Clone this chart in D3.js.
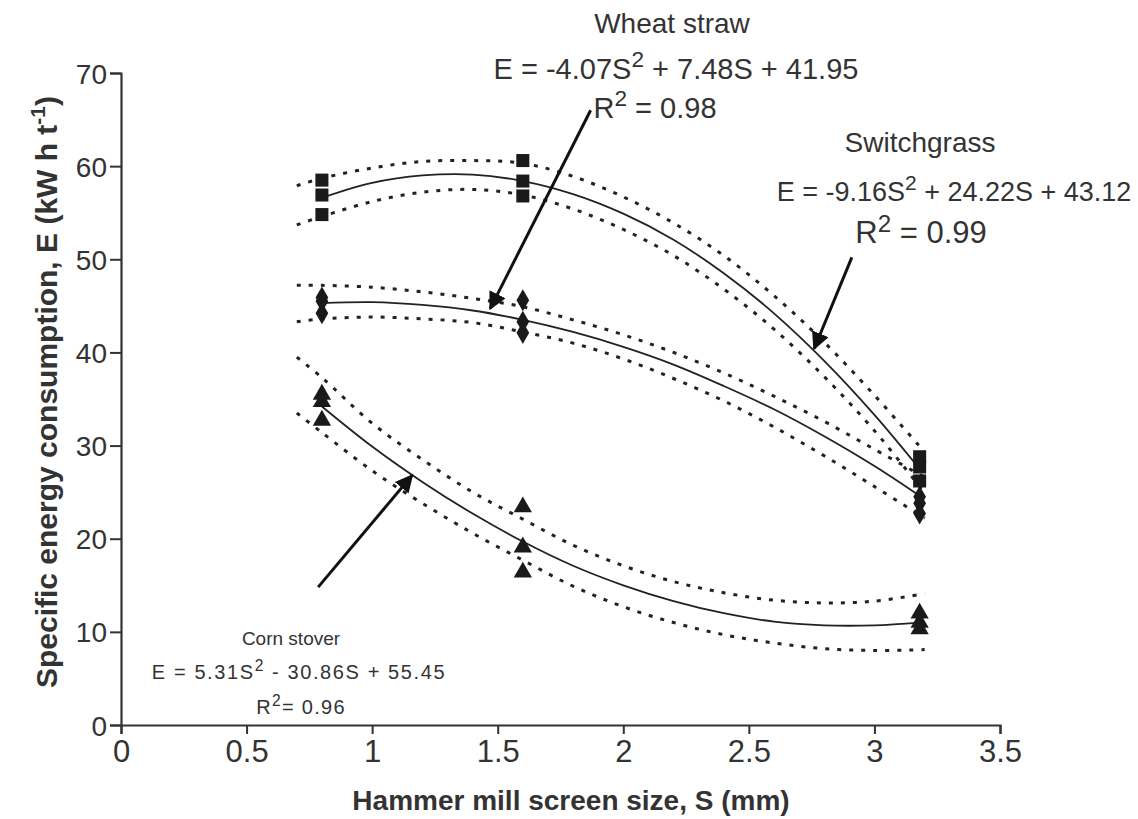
<!DOCTYPE html>
<html>
<head>
<meta charset="utf-8">
<script src="https://cdn.jsdelivr.net/npm/d3@7"></script>
<style>
  html, body { margin: 0; padding: 0; background: #fff; }
  svg { display: block; }
  text { font-family: "Liberation Sans", Arial, sans-serif; fill: #333; }
</style>
</head>
<body>
<svg id="chart" width="1138" height="819"></svg>
<script>
// ---------- DATA ----------
const xTicks = [0, 0.5, 1, 1.5, 2, 2.5, 3, 3.5];
const yTicks = [0, 10, 20, 30, 40, 50, 60, 70];

const screenSizes = [0.8, 1.6, 3.18];

// replicate measurements (kWh/t) at each screen size
const switchgrassPts = [[58.5, 56.9, 54.8], [60.6, 58.4, 56.8], [28.8, 27.7, 26.2]];
const wheatPts       = [[45.9, 45.5, 44.2], [45.6, 43.3, 42.1], [24.5, 23.8, 22.7]];
const cornPts        = [[35.5, 34.7, 32.7], [23.4, 19.1, 16.4], [12.0, 11.0, 10.3]];

// fitted curves read along S
const fitS = [0.8, 1.0, 1.2, 1.4, 1.6, 1.8, 2.0, 2.2, 2.4, 2.6, 2.8, 3.0, 3.18];
const switchgrassFit = [56.6, 58.2, 59.0, 59.1, 58.4, 57.0, 54.9, 52.1, 48.5, 44.2, 39.1, 33.3, 27.5];
const wheatFit       = [45.3, 45.4, 45.1, 44.5, 43.5, 42.2, 40.6, 38.7, 36.4, 33.9, 31.0, 27.8, 24.6];
const cornFit        = [34.2, 29.9, 26.1, 22.7, 19.7, 17.1, 15.0, 13.3, 12.0, 11.1, 10.7, 10.7, 11.0];

// confidence bands (dotted) read along S
const bandS = [0.7, 0.8, 1.0, 1.2, 1.4, 1.6, 1.8, 2.0, 2.2, 2.4, 2.6, 2.8, 3.0, 3.2];
const switchgrassUpper = [57.9, 58.7, 59.8, 60.5, 60.6, 60.3, 58.9, 56.7, 53.9, 50.4, 46.1, 41.1, 35.4, 29.3];
const switchgrassLower = [53.7, 54.6, 56.2, 57.2, 57.5, 56.9, 55.4, 53.2, 50.4, 46.8, 42.5, 37.4, 31.6, 24.9];
const wheatUpper       = [47.2, 47.2, 47.0, 46.5, 45.8, 44.9, 43.5, 41.9, 40.0, 37.8, 35.3, 32.6, 29.6, 26.6];
const wheatLower       = [43.3, 43.6, 43.8, 43.6, 43.2, 42.2, 41.0, 39.3, 37.2, 34.8, 32.0, 28.9, 25.6, 22.2];
const cornUpper        = [39.5, 37.3, 32.4, 28.5, 25.0, 22.1, 19.3, 17.1, 15.4, 14.2, 13.4, 13.1, 13.3, 14.1];
const cornLower        = [33.5, 31.4, 27.3, 23.8, 20.6, 17.7, 14.9, 12.7, 11.0, 9.7, 8.8, 8.2, 8.0, 8.1];

// annotation arrows: [tailS, tailE, headS, headE]
const wheatArrow  = [1.87, 66.0, 1.47, 44.7];
const switchArrow = [2.91, 50.2, 2.76, 40.4];
const cornArrow   = [0.785, 14.8, 1.159, 26.8];

// ---------- CHART ----------
const svg = d3.select("#chart");
const x = d3.scaleLinear().domain([0, 3.5]).range([121, 1000]);
const y = d3.scaleLinear().domain([0, 70]).range([725, 73]);

const ink = "#222";

// axes
const xAxis = svg.append("g").attr("transform", `translate(0,${y(0)})`)
  .call(d3.axisBottom(x).tickValues(xTicks).tickSize(9).tickPadding(6).tickFormat(d3.format("")));
const yAxis = svg.append("g").attr("transform", `translate(${x(0)},0)`)
  .call(d3.axisLeft(y).tickValues(yTicks).tickSize(11).tickPadding(3).tickFormat(d3.format("")));
[xAxis, yAxis].forEach(a => {
  a.select(".domain").attr("stroke", "#333").attr("stroke-width", 2.2);
  a.selectAll(".tick line").attr("stroke", "#333").attr("stroke-width", 2);
  a.selectAll(".tick text").attr("fill", "#3a3a3a")
    .style("font-family", "'Liberation Sans', Arial, sans-serif");
});
xAxis.selectAll(".tick text").style("font-size", "30px")
  .attr("transform", function() { return "scale(0.88,1.08)"; });
xAxis.selectAll(".tick").each(function(d) {
  d3.select(this).select("text").attr("transform", null)
    .style("font-size", "31px");
});
yAxis.selectAll(".tick text").style("font-size", "28px").attr("dy", "0.36em");

// axis titles
svg.append("text").attr("x", 571).attr("y", 810).attr("text-anchor", "middle")
  .style("font-size", "28px").style("font-weight", "bold").text("Hammer mill screen size, S (mm)");
const yt = svg.append("text").attr("transform", "translate(57,392) rotate(-90)")
  .attr("text-anchor", "middle").style("font-size", "30px").style("font-weight", "bold");
yt.append("tspan").text("Specific energy consumption, E (kW h t");
yt.append("tspan").attr("dy", -12).style("font-size", "21px").text("-1");
yt.append("tspan").attr("dy", 12).text(")");

// lines
const line = d3.line().x(d => x(d[0])).y(d => y(d[1])).curve(d3.curveCatmullRom.alpha(0.5));
function drawLine(xs, ys, dashed) {
  svg.append("path").datum(xs.map((s, i) => [s, ys[i]]))
    .attr("d", line).attr("fill", "none").attr("stroke", ink)
    .attr("stroke-width", dashed ? 3 : 1.8)
    .attr("stroke-dasharray", dashed ? "4,8" : null);
}
[[switchgrassUpper], [switchgrassLower], [wheatUpper], [wheatLower], [cornUpper], [cornLower]]
  .forEach(([b]) => drawLine(bandS, b, true));
[switchgrassFit, wheatFit, cornFit].forEach(f => drawLine(fitS, f, false));

// markers
const sym = { square: d3.symbolSquare, diamond: d3.symbolDiamond, triangle: d3.symbolTriangle };
function drawPts(pts, type, size) {
  pts.forEach((reps, i) => reps.forEach(v => {
    svg.append("path").attr("d", d3.symbol().type(sym[type]).size(size)())
      .attr("transform", `translate(${x(screenSizes[i])},${y(v)})`).attr("fill", "#1a1a1a");
  }));
}
drawPts(switchgrassPts, "square", 170);
drawPts(wheatPts, "diamond", 140);
drawPts(cornPts, "triangle", 145);

// arrows
const defs = svg.append("defs");
defs.append("marker").attr("id", "ah").attr("viewBox", "0 0 10 10").attr("refX", 9).attr("refY", 5)
  .attr("markerWidth", 6).attr("markerHeight", 6).attr("orient", "auto")
  .append("path").attr("d", "M0,0 L10,5 L0,10 z").attr("fill", "#111");
[wheatArrow, switchArrow, cornArrow].forEach(a => {
  svg.append("line").attr("x1", x(a[0])).attr("y1", y(a[1])).attr("x2", x(a[2])).attr("y2", y(a[3]))
    .attr("stroke", "#111").attr("stroke-width", 3).attr("marker-end", "url(#ah)");
});

// annotation text
function eq(cx, cy, parts, fs, ls, shift) {
  const sh = shift || 0.42;
  const t = svg.append("text").attr("x", cx).attr("y", cy).attr("text-anchor", "middle")
    .style("font-size", fs + "px");
  if (ls) t.style("letter-spacing", ls + "px");
  let up = false;
  parts.forEach(p => {
    const sup = p.startsWith("^");
    const s = t.append("tspan").text(sup ? p.slice(1) : p);
    if (sup && !up) { s.attr("dy", -fs * sh).style("font-size", (fs * 0.78) + "px"); up = true; }
    else if (!sup && up) { s.attr("dy", fs * sh); up = false; }
  });
}
eq(672, 33, ["Wheat straw"], 28);
eq(676, 79, ["E = -4.07S", "^2", " + 7.48S + 41.95"], 29);
eq(655, 118, ["R", "^2", " = 0.98"], 29);

eq(920, 152, ["Switchgrass"], 28);
eq(954, 201, ["E = -9.16S", "^2", " + 24.22S + 43.12"], 27);
eq(921, 243, ["R", "^2", " = 0.99"], 31, 0, 0.36);

eq(291, 645, ["Corn stover"], 19);
eq(299, 679, ["E = 5.31S", "^2", " - 30.86S + 55.45"], 20, 1.6);
eq(301, 714, ["R", "^2", "= 0.96"], 20, 1.3);
</script>
</body>
</html>
